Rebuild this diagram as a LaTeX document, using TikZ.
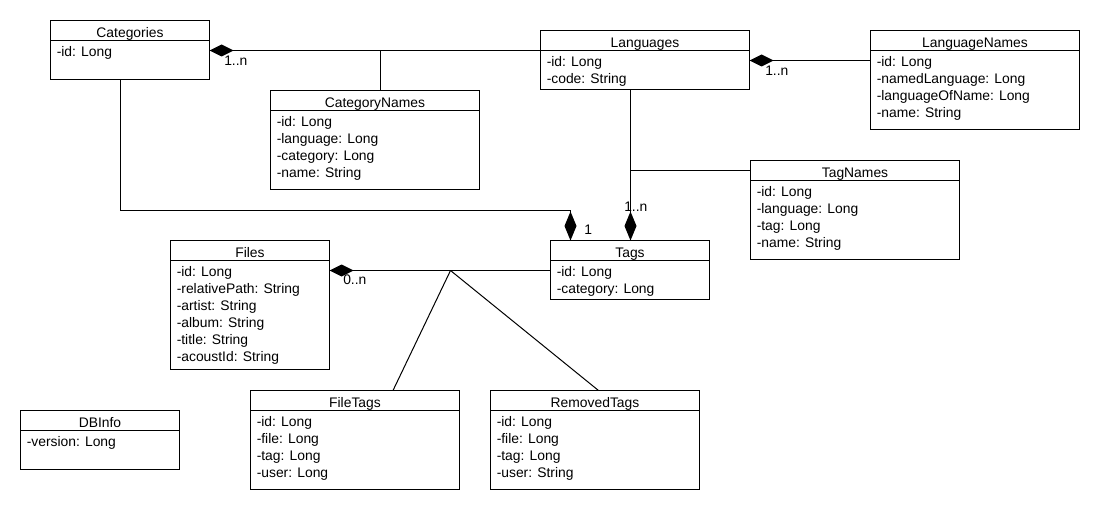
\documentclass[tikz,border=0pt]{standalone}
\usepackage{fontspec}
\setmainfont{Liberation Sans}
\usetikzlibrary{arrows.meta,calc,fit}

\newcommand\umlfont{\fontsize{10.4}{12.5}\selectfont}

\tikzset{
  umlbox/.style={draw, line width=0.75pt, inner sep=0pt, outer sep=0pt, fill=white},
  umltitle/.style={anchor=base, inner sep=0pt, font=\umlfont},
  umlattr/.style={anchor=base west, inner sep=0pt, font=\umlfont},
  mult/.style={anchor=base west, inner sep=0pt, font=\umlfont},
  link/.style={line width=0.75pt},
  compH/.style={link, {Diamond[length=18pt,width=9pt]}-},
  compV/.style={link, -{Diamond[length=21.75pt,width=9pt]}},
}

% #1 name, #2 left, #3 top, #4 right, #5 bottom, #6 title, #7 attributes
\newcommand\umlclass[7]{%
  \node[umlbox, fit={(#2,#3) (#4,#5)}] (#1) {};
  \draw[link] ($(#1.north west)+(0,20)$) -- ($(#1.north east)+(0,20)$);
  \node[umltitle] (#1-title) at ($(#1.north)+(0,16.8)$) {#6};
  \foreach \a [count=\i from 0] in {#7}
    \node[umlattr] (#1-attr\i) at ($(#1.north west)+(6,36.2+17*\i)$) {\a};
}

\begin{document}
\begin{tikzpicture}[x=0.75pt,y=-0.75pt]
  \fill[white] (0,0) rectangle (1100,510);
  \useasboundingbox (0,0) rectangle (1100,510);

  % classes
  \umlclass{cat}{50.5}{20.5}{209.5}{79.5}{Categories}{-id: Long}
  \umlclass{lang}{540.5}{30.5}{749.5}{89.5}{Languages}{-id: Long, -code: String}
  \umlclass{langn}{870.5}{30.5}{1079.5}{129.5}{LanguageNames}{-id: Long, -namedLanguage: Long, -languageOfName: Long, -name: String}
  \umlclass{catn}{270.5}{90.5}{479.5}{189.5}{CategoryNames}{-id: Long, -language: Long, -category: Long, -name: String}
  \umlclass{tagn}{750.5}{160.5}{959.5}{259.5}{TagNames}{-id: Long, -language: Long, -tag: Long, -name: String}
  \umlclass{files}{170.5}{240.5}{329.5}{369.5}{Files}{-id: Long, -relativePath: String, -artist: String, -album: String, -title: String, -acoustId: String}
  \umlclass{tags}{550.5}{240.5}{709.5}{299.5}{Tags}{-id: Long, -category: Long}
  \umlclass{dbinfo}{20.5}{410.5}{179.5}{469.5}{DBInfo}{-version: Long}
  \umlclass{filetags}{250.5}{390.5}{459.5}{489.5}{FileTags}{-id: Long, -file: Long, -tag: Long, -user: Long}
  \umlclass{removed}{490.5}{390.5}{699.5}{489.5}{RemovedTags}{-id: Long, -file: Long, -tag: Long, -user: String}

  % junction points
  \coordinate (cnj) at ($(catn.north west)+(110,-40)$);
  \coordinate (tnj) at ($(tagn.north west)+(-120,10)$);
  \coordinate (fj)  at ($(files.north east)+(121,30)$);

  % Categories -- Languages, with CategoryNames hanging off it
  \draw[compH] ($(cat.north east)+(0,30)$) -- ($(lang.north west)+(0,20)$);
  \draw[link] ($(catn.north west)+(110,0)$) -- (cnj);
  \node[mult] (m1) at (224,65) {1..n};

  % Languages -- LanguageNames
  \draw[compH] ($(lang.north east)+(0,30)$) -- ($(langn.north west)+(0,30)$);
  \node[mult] (m2) at (765,75) {1..n};

  % Languages -- Tags, with TagNames hanging off it
  \draw[compV] ($(lang.south west)+(90,0)$) -- ($(tags.north west)+(80,0)$);
  \draw[link] (tnj) -- ($(tagn.north west)+(0,10)$);
  \node[mult] (m3) at (624,211.5) {1..n};

  % Categories -- Tags
  \draw[compV] ($(cat.south west)+(70,0)$) |- ($(tags.north west)+(20,-30)$) -- ($(tags.north west)+(20,0)$);
  \node[mult] (m4) at (584,234.5) {1};

  % Files -- Tags, with FileTags and RemovedTags
  \draw[compH] ($(files.north east)+(0,30)$) -- ($(tags.north west)+(0,30)$);
  \node[mult] (m5) at (343,284.5) {0..n};
  \draw[link] (fj) -- ($(filetags.north west)+(142.5,0)$);
  \draw[link] (fj) -- ($(removed.north west)+(108,0)$);
\end{tikzpicture}
\end{document}
